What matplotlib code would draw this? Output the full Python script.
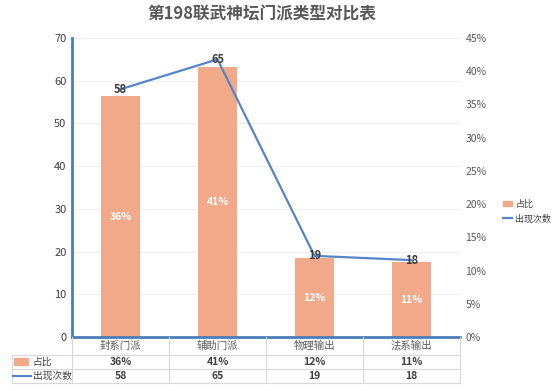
import matplotlib
matplotlib.use('Agg')
import matplotlib.pyplot as plt
from matplotlib.patches import Patch, Rectangle
from matplotlib.lines import Line2D
from matplotlib.transforms import blended_transform_factory
from matplotlib.ticker import PercentFormatter

plt.rcParams['font.family'] = ['Noto Sans CJK SC', 'DejaVu Sans']

categories = ['封系门派', '辅助门派', '物理输出', '法系输出']
counts = [58, 65, 19, 18]
share = [0.3625, 0.40625, 0.11875, 0.1125]
share_labels = ['36%', '41%', '12%', '11%']

bar_color = '#f2a98a'
line_color = '#5585c8'
spine_color = '#4a7ebb'
text_color = '#595959'
grid_color = '#efefef'

W, H = 554, 391
fig = plt.figure(figsize=(W / 100, H / 100), dpi=100)


def fy(px):
    return 1 - px / H


def fx(px):
    return px / W


ax = fig.add_axes([fx(72), fy(337), fx(460) - fx(72), fy(38) - fy(337)])
ax2 = ax.twinx()

x = range(len(categories))

# bars on the percentage scale (right)
ax.bar(x, share, width=0.4, color=bar_color, zorder=2)
ax.set_ylim(0, 0.45)
ax.set_xlim(-0.5, 3.5)
ax.set_yticks([i * 0.05 for i in range(10)])
ax.yaxis.set_major_formatter(PercentFormatter(1.0, decimals=0))
ax.yaxis.tick_right()
ax.set_xticks([])
for v in range(0, 71, 10):
    ax.axhline(v / 70 * 0.45, color=grid_color, lw=0.8, zorder=0)
for i, s in enumerate(share):
    ax.text(i, s / 2, share_labels[i], ha='center', va='center', color='white',
            fontsize=7.5, fontweight='bold', zorder=3)

# line on the count scale (left)
ax2.plot(list(x), counts, color=line_color, lw=1.6, zorder=3)
ax2.set_ylim(0, 70)
ax2.set_yticks(range(0, 71, 10))
ax2.yaxis.set_ticks_position('left')
ax2.yaxis.set_label_position('left')
for i, c in enumerate(counts):
    ax2.text(i, c, str(c), ha='center', va='center', color='#404040',
             fontsize=8, fontweight='bold', zorder=4)

for a in (ax, ax2):
    for s in ('top', 'right', 'left', 'bottom'):
        a.spines[s].set_visible(False)
    a.tick_params(length=0, labelsize=7.5, colors=text_color, pad=4)
for s in ('left', 'bottom'):
    ax2.spines[s].set_visible(True)
    ax2.spines[s].set_color(spine_color)
    ax2.spines[s].set_linewidth(2)
ax2.tick_params(axis='y', colors='#404040', labelsize=8)

fig.suptitle('第198联武神坛门派类型对比表', x=fx(262), y=fy(5), va='top',
             fontsize=12, fontweight='bold', color=text_color)

# data table under the axis
tr = blended_transform_factory(ax.transData, fig.transFigure)
tcol = '#d9d9d9'
rows_px = [337, 355, 369, 383]
for b in [-0.5, 0.5, 1.5, 2.5, 3.5]:
    fig.add_artist(Line2D([b, b], [fy(337), fy(383)], transform=tr, color=tcol, lw=0.8))
for r in rows_px[1:]:
    fig.add_artist(Line2D([fx(12), fx(460)], [fy(r), fy(r)], color=tcol, lw=0.8))
fig.add_artist(Line2D([fx(12), fx(12)], [fy(355), fy(383)], color=tcol, lw=0.8))

for i, cat in enumerate(categories):
    fig.text(i, fy(346), cat, transform=tr, ha='center', va='center',
             fontsize=7.5, color=text_color)
    fig.text(i, fy(362), share_labels[i], transform=tr, ha='center', va='center',
             fontsize=7.5, color='#404040', fontweight='bold')
    fig.text(i, fy(376), str(counts[i]), transform=tr, ha='center', va='center',
             fontsize=7.5, color='#404040', fontweight='bold')

fig.add_artist(Rectangle((fx(14), fy(365)), fx(14), fy(358) - fy(365),
                         color=bar_color, transform=fig.transFigure))
fig.add_artist(Line2D([fx(13), fx(31)], [fy(376), fy(376)], color=line_color, lw=1.6))
fig.text(fx(33), fy(362), '占比', ha='left', va='center', fontsize=7, color='#404040')
fig.text(fx(33), fy(376), '出现次数', ha='left', va='center', fontsize=7, color='#404040')

handles = [Patch(color=bar_color, label='占比'),
           Line2D([], [], color=line_color, lw=1.6, label='出现次数')]
fig.legend(handles=handles, loc='upper left', bbox_to_anchor=(fx(498), fy(195)),
           frameon=False, fontsize=6.5, handlelength=1.1, handleheight=0.6,
           handletextpad=0.3, labelspacing=0.6, labelcolor='#404040', borderpad=0)

fig.savefig('out.png', dpi=100)
